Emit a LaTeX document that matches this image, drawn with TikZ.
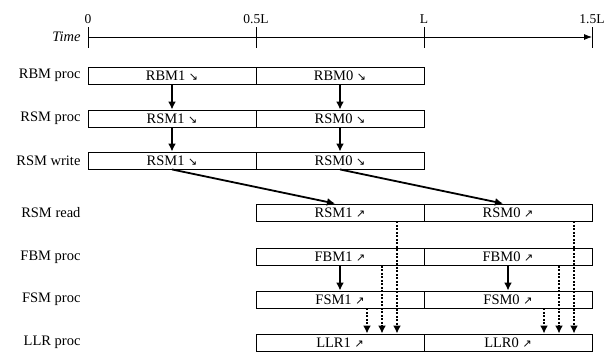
\documentclass[tikz,border=0pt]{standalone}
\usepackage{fontspec}
\setmainfont{Liberation Serif}
\newfontfamily\arrowfont{DejaVu Sans}
\usetikzlibrary{arrows.meta}

\newcommand{\arrdn}{{\arrowfont\fontsize{11}{11}\selectfont ↘}}
\newcommand{\arrup}{{\arrowfont\fontsize{11}{11}\selectfont ↗}}

\begin{document}
\begin{tikzpicture}[x=1pt, y=-1pt,
    slot/.style={draw, line width=0.9pt, minimum width=168pt, minimum height=17pt,
      inner sep=0pt, font=\fontsize{14.5}{14.5}\selectfont},
    rowname/.style={anchor=east, font=\fontsize{14.5}{14.5}\selectfont},
    ticklab/.style={above, font=\fontsize{13.5}{13.5}\selectfont},
    solidarr/.style={-{Latex[length=8pt,width=8pt]}, line width=1.8pt},
    dotarr/.style={solidarr, line width=2pt, dash pattern=on 2pt off 1.5pt}]
    \useasboundingbox (0,0) rectangle (614,354);

    % Time axis
    \coordinate (t0) at (88,37);
    \coordinate (t3) at (592,37);
    \draw[-{Latex[length=8pt,width=6pt]}, line width=0.8pt] (t0) -- (t3);
    \foreach \x/\lab [count=\i] in {88/0, 256/0.5L, 424/L, 592/1.5L}
        \draw[line width=0.8pt] (\x,27) -- (\x,48) node[pos=0, ticklab] (tick\i) {\lab};
    \node[rowname] (time) at (84,37) {\textit{Time}};

    % Row labels
    \node[rowname] (rbmlab)  at (84,75.5)  {RBM proc};
    \node[rowname] (rsmplab) at (84,118.5) {RSM proc};
    \node[rowname] (rsmwlab) at (84,160.5) {RSM write};
    \node[rowname] (rsmrlab) at (84,212.5) {RSM read};
    \node[rowname] (fbmlab)  at (84,257)   {FBM proc};
    \node[rowname] (fsmlab)  at (84,299.5) {FSM proc};
    \node[rowname] (llrlab)  at (84,342.5) {LLR proc};

    % Backward pass
    \node[slot] (rbm1)  at (172,75.5)  {RBM1 \arrdn};
    \node[slot] (rbm0)  at (340,75.5)  {RBM0 \arrdn};
    \node[slot] (rsmp1) at (172,118.5) {RSM1 \arrdn};
    \node[slot] (rsmp0) at (340,118.5) {RSM0 \arrdn};
    \node[slot] (rsmw1) at (172,160.5) {RSM1 \arrdn};
    \node[slot] (rsmw0) at (340,160.5) {RSM0 \arrdn};

    % Forward pass
    \node[slot] (rsmr1) at (340,212.5) {RSM1 \arrup};
    \node[slot] (rsmr0) at (508,212.5) {RSM0 \arrup};
    \node[slot] (fbm1)  at (340,257)   {FBM1 \arrup};
    \node[slot] (fbm0)  at (508,257)   {FBM0 \arrup};
    \node[slot] (fsm1)  at (340,299.5) {FSM1 \arrup};
    \node[slot] (fsm0)  at (508,299.5) {FSM0 \arrup};
    \node[slot] (llr1)  at (340,342.5) {LLR1 \arrup};
    \node[slot] (llr0)  at (508,342.5) {LLR0 \arrup};

    % Solid dependencies
    \draw[solidarr] (rbm1) -- (rsmp1);
    \draw[solidarr] (rbm0) -- (rsmp0);
    \draw[solidarr] (rsmp1) -- (rsmw1);
    \draw[solidarr] (rsmp0) -- (rsmw0);
    \draw[solidarr] (rsmw1.south) -- ([xshift=-5pt]rsmr1.north);
    \draw[solidarr] (rsmw0.south) -- ([xshift=-5pt]rsmr0.north);
    \draw[solidarr] (fbm1) -- (fsm1);
    \draw[solidarr] (fbm0) -- (fsm0);

    % Dotted dependencies into LLR
    \draw[dotarr] ([xshift=57pt]rsmr1.south) -- ([xshift=57pt]llr1.north);
    \draw[dotarr] ([xshift=42pt]fbm1.south) -- ([xshift=42pt]llr1.north);
    \draw[dotarr] ([xshift=27pt]fsm1.south) -- ([xshift=27pt]llr1.north);
    \draw[dotarr] ([xshift=66pt]rsmr0.south) -- ([xshift=66pt]llr0.north);
    \draw[dotarr] ([xshift=51pt]fbm0.south) -- ([xshift=51pt]llr0.north);
    \draw[dotarr] ([xshift=36pt]fsm0.south) -- ([xshift=36pt]llr0.north);
\end{tikzpicture}
\end{document}
